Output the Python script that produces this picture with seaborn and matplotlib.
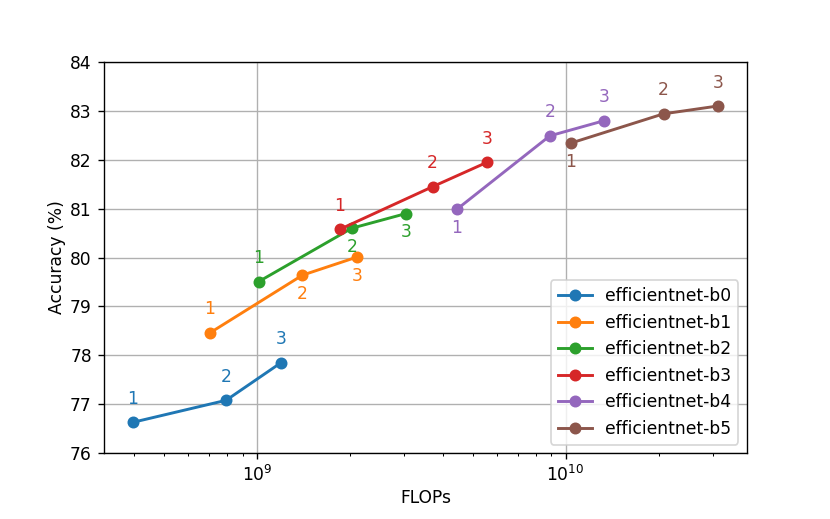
import pandas as pd
import matplotlib
matplotlib.use("Agg")
import matplotlib.pyplot as plt
import seaborn as sns

models = ["efficientnet-b0", "efficientnet-b1", "efficientnet-b2",
          "efficientnet-b3", "efficientnet-b4", "efficientnet-b5"]
flops = [
    [3.97e8, 7.95e8, 1.198e9],
    [7.05e8, 1.405e9, 2.11e9],
    [1.015e9, 2.03e9, 3.04e9],
    [1.86e9, 3.71e9, 5.57e9],
    [4.45e9, 8.89e9, 1.333e10],
    [1.038e10, 2.075e10, 3.11e10],
]
accuracy = [
    [76.63, 77.08, 77.85],
    [78.46, 79.64, 80.01],
    [79.51, 80.60, 80.90],
    [80.58, 81.45, 81.95],
    [80.99, 82.49, 82.80],
    [82.34, 82.94, 83.10],
]
point_labels = ["1", "2", "3"]
# +1 = label above the point, -1 = below
label_side = [
    [1, 1, 1],
    [1, -1, -1],
    [1, -1, -1],
    [1, 1, 1],
    [-1, 1, 1],
    [-1, 1, 1],
]

rows = []
for m, xs, ys in zip(models, flops, accuracy):
    for i, (x, y) in enumerate(zip(xs, ys)):
        rows.append({"model": m, "FLOPs": x, "acc": y, "idx": i})
df = pd.DataFrame(rows)

colors = sns.color_palette("tab10", len(models))

DPI = 123
fig = plt.figure(figsize=(830 / DPI, 519 / DPI), dpi=DPI)
ax = fig.add_axes([0.125, 0.127, 0.775, 0.7535])

for m, c, sides in zip(models, colors, label_side):
    sub = df[df["model"] == m]
    sns.lineplot(data=sub, x="FLOPs", y="acc", ax=ax, color=c, label=m,
                 marker="o", markersize=6, markeredgecolor=c, markeredgewidth=1,
                 linewidth=1.7, sort=False)
    for _, r in sub.iterrows():
        side = sides[int(r["idx"])]
        ax.annotate(point_labels[int(r["idx"])], (r["FLOPs"], r["acc"]),
                    xytext=(0, 13.7 if side > 0 else -11), textcoords="offset points",
                    ha="center", va="center", color=c, fontsize=10)

ax.set_xscale("log")
ax.set_ylim(76, 84)
ax.grid(True, which="major", color="#b0b0b0", linewidth=0.8)
ax.set_xlabel("FLOPs", labelpad=2)
ax.set_ylabel("Accuracy (%)", labelpad=2)
ax.legend(loc="lower right")

fig.savefig("out.png", dpi=DPI)
